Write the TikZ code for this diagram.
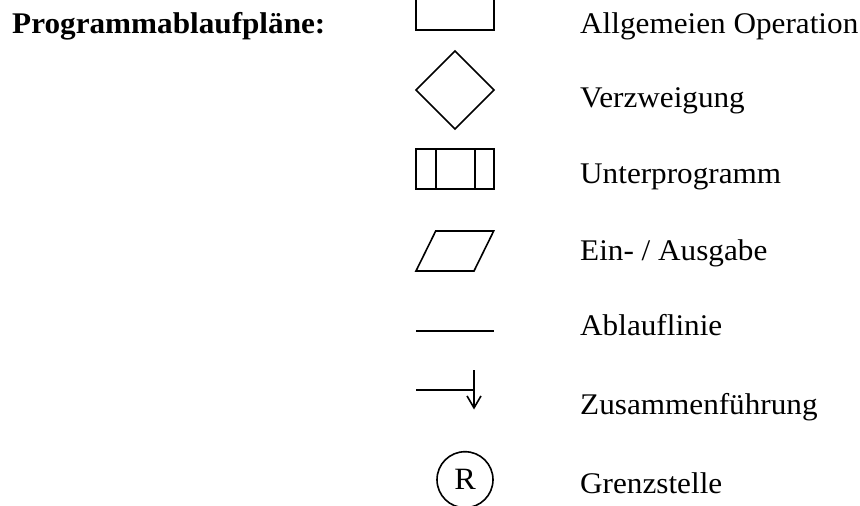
\documentclass[tikz,border=0pt]{standalone}
\usepackage{fontspec}
\setmainfont[FakeStretch=1.04]{Liberation Serif}
\usetikzlibrary{arrows.meta}
\begin{document}
\begin{tikzpicture}[x=1pt,y=-1pt,
  sym/.style={draw=black,line width=1.6pt},
  lbl/.style={anchor=base west,inner sep=0pt,font=\fontsize{30}{34}\selectfont},
  ttl/.style={anchor=base west,inner sep=0pt,font=\bfseries\fontsize{30}{34}\selectfont}]
\useasboundingbox (0,0) rectangle (860,506);

% title
\node[ttl] (title) at (12,33.3) {Programmablaufpläne:};

% general operation
\draw[sym] (416,-10) rectangle (494,30);
\node[lbl] (t1) at (580,33.3) {Allgemeien Operation};

% branch
\draw[sym] (455,51) -- (494,90) -- (455,129) -- (416,90) -- cycle;
\node[lbl] (t2) at (580,107.7) {Verzweigung};

% subroutine
\draw[sym] (416,149) rectangle (494,189);
\draw[sym] (435.7,149) -- (435.7,189) (475,149) -- (475,189);
\node[lbl] (t3) at (580,183.3) {Unterprogramm};

% input / output
\draw[sym] (435.7,231) -- (493.7,231) -- (474,271) -- (416,271) -- cycle;
\node[lbl] (t4) at (580,260) {Ein- / Ausgabe};

% flow line
\coordinate (la) at (416,331);
\coordinate (lb) at (494,331);
\draw[sym] (la) -- (lb);
\node[lbl] (t5) at (580,335) {Ablauflinie};

% junction
\coordinate (ja) at (416,390);
\coordinate (jb) at (474,390);
\coordinate (jt) at (474,370);
\coordinate (jd) at (474,409.5);
\draw[sym] (ja) -- (jb);
\draw[sym,-{Straight Barb[length=12pt,width=14pt,line width=1.6pt]}] (jt) -- (jd);
\node[lbl] (t6) at (580,414) {Zusammenführung};

% connector
\node[sym,circle,minimum size=56pt,inner sep=0pt,font=\fontsize{31}{34}\selectfont] (r) at (465,479.7) {R};
\node[lbl] (t7) at (580,493.3) {Grenzstelle};
\end{tikzpicture}
\end{document}
